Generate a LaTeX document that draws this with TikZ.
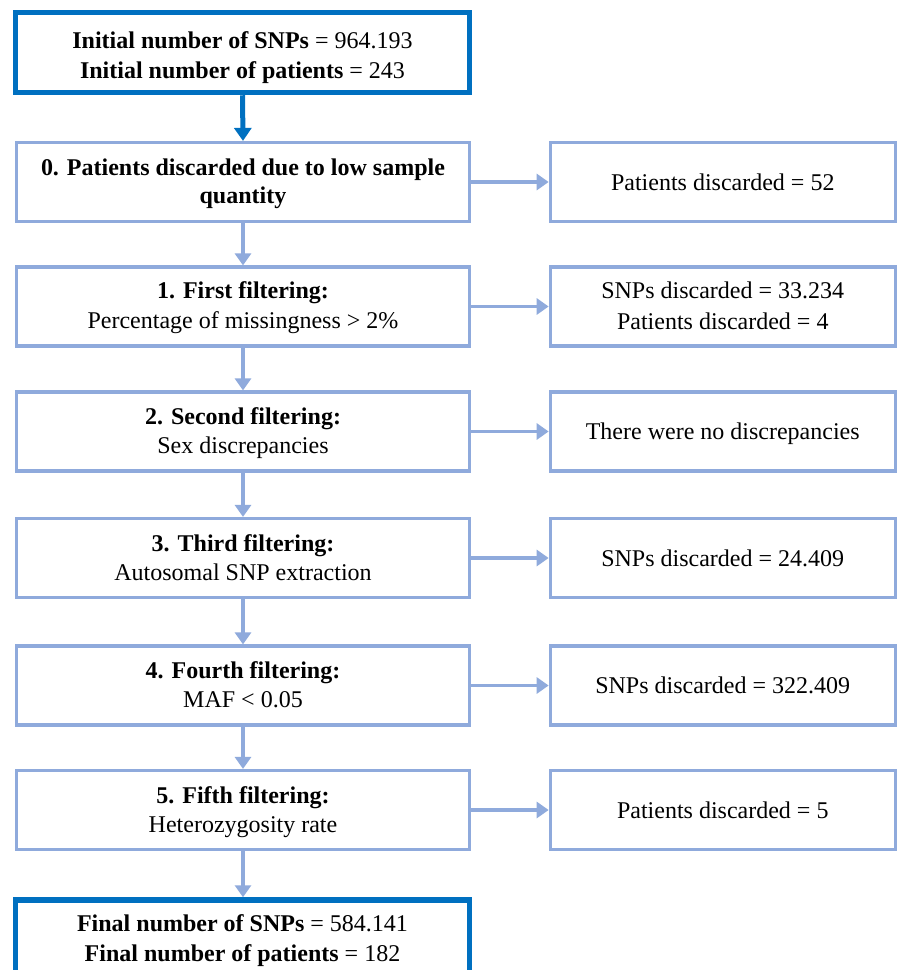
\documentclass[tikz,border=0pt]{standalone}
\usepackage{fontspec}
\setmainfont{Liberation Serif}
\usetikzlibrary{arrows.meta,calc}
\definecolor{lblue}{HTML}{8FAADC}
\definecolor{dblue}{HTML}{0070C0}
\begin{document}
\begin{tikzpicture}[x=1pt,y=-1pt,
  lbox/.style={draw=lblue, line width=3.2pt, minimum width=453pt, minimum height=79pt, inner sep=0pt, fill=white},
  rbox/.style={lbox, minimum width=345pt},
  dbox/.style={draw=dblue, line width=5.5pt, minimum width=454pt, minimum height=80pt, inner sep=0pt, fill=white},
  txt/.style={anchor=base, inner sep=0pt, font=\fontsize{24}{30}\selectfont},
  larr/.style={draw=lblue, line width=3.8pt, -{Triangle[width=16pt,length=12pt]}},
  darr/.style={draw=dblue, line width=5pt, -{Triangle[width=17pt,length=13pt]}}]
\clip (0,0) rectangle (898,970);
\fill[white] (0,0) rectangle (898,970);
% boxes
\node[dbox] (top) at (242.5,52.5) {};
\node[lbox] (b0) at (243,182) {};
\node[rbox] (r0) at (722.75,182) {};
\node[lbox] (b1) at (243,306.5) {};
\node[rbox] (r1) at (722.75,306.5) {};
\node[lbox] (b2) at (243,431.5) {};
\node[rbox] (r2) at (722.75,431.5) {};
\node[lbox] (b3) at (243,558) {};
\node[rbox] (r3) at (722.75,558) {};
\node[lbox] (b4) at (243,685.5) {};
\node[rbox] (r4) at (722.75,685.5) {};
\node[lbox] (b5) at (243,810) {};
\node[rbox] (r5) at (722.75,810) {};
\node[dbox] (fin) at (242.5,940) {};
% texts
\node[txt] (ttop1) at (242.5,48) {\textbf{Initial number of SNPs} = 964.193};
\node[txt] (ttop2) at (242.5,78) {\textbf{Initial number of patients} = 243};
\node[txt] (tb0a) at ([yshift=7pt]b0.center) {\textbf{0. Patients discarded due to low sample}};
\node[txt] (tb0b) at ([yshift=-21pt]b0.center) {\textbf{quantity}};
\node[txt] (tr0) at ([yshift=-8pt]r0.center) {Patients discarded = 52};
\node[txt] (tb1a) at ([yshift=8pt]b1.center) {\textbf{1. First filtering:}};
\node[txt] (tb1b) at ([yshift=-22pt]b1.center) {Percentage of missingness > 2\%};
\node[txt] (tr1a) at ([yshift=8pt]r1.center) {SNPs discarded = 33.234};
\node[txt] (tr1b) at ([yshift=-22.5pt]r1.center) {Patients discarded = 4};
\node[txt] (tb2a) at ([yshift=7pt]b2.center) {\textbf{2. Second filtering:}};
\node[txt] (tb2b) at ([yshift=-22pt]b2.center) {Sex discrepancies};
\node[txt] (tr2) at ([yshift=-8pt]r2.center) {There were no discrepancies};
\node[txt] (tb3a) at ([yshift=7pt]b3.center) {\textbf{3. Third filtering:}};
\node[txt] (tb3b) at ([yshift=-22pt]b3.center) {Autosomal SNP extraction};
\node[txt] (tr3) at ([yshift=-8pt]r3.center) {SNPs discarded = 24.409};
\node[txt] (tb4a) at ([yshift=7pt]b4.center) {\textbf{4. Fourth filtering:}};
\node[txt] (tb4b) at ([yshift=-22pt]b4.center) {MAF < 0.05};
\node[txt] (tr4) at ([yshift=-8pt]r4.center) {SNPs discarded = 322.409};
\node[txt] (tb5a) at ([yshift=7pt]b5.center) {\textbf{5. Fifth filtering:}};
\node[txt] (tb5b) at ([yshift=-22pt]b5.center) {Heterozygosity rate};
\node[txt] (tr5) at ([yshift=-8pt]r5.center) {Patients discarded = 5};
\node[txt] (tfin1) at (242.5,931) {\textbf{Final number of SNPs} = 584.141};
\node[txt] (tfin2) at (242.5,961) {\textbf{Final number of patients} = 182};
% connectors
\draw[darr] (top.south) -- (b0.north);
\draw[larr] (b0.south) -- (b1.north);
\draw[larr] (b1.south) -- (b2.north);
\draw[larr] (b2.south) -- (b3.north);
\draw[larr] (b3.south) -- (b4.north);
\draw[larr] (b4.south) -- (b5.north);
\draw[larr] (b5.south) -- (b5.south |- fin.north);
\draw[larr] (b0.east) -- (r0.west);
\draw[larr] (b1.east) -- (r1.west);
\draw[larr] (b2.east) -- (r2.west);
\draw[larr] (b3.east) -- (r3.west);
\draw[larr] (b4.east) -- (r4.west);
\draw[larr] (b5.east) -- (r5.west);
\end{tikzpicture}
\end{document}
